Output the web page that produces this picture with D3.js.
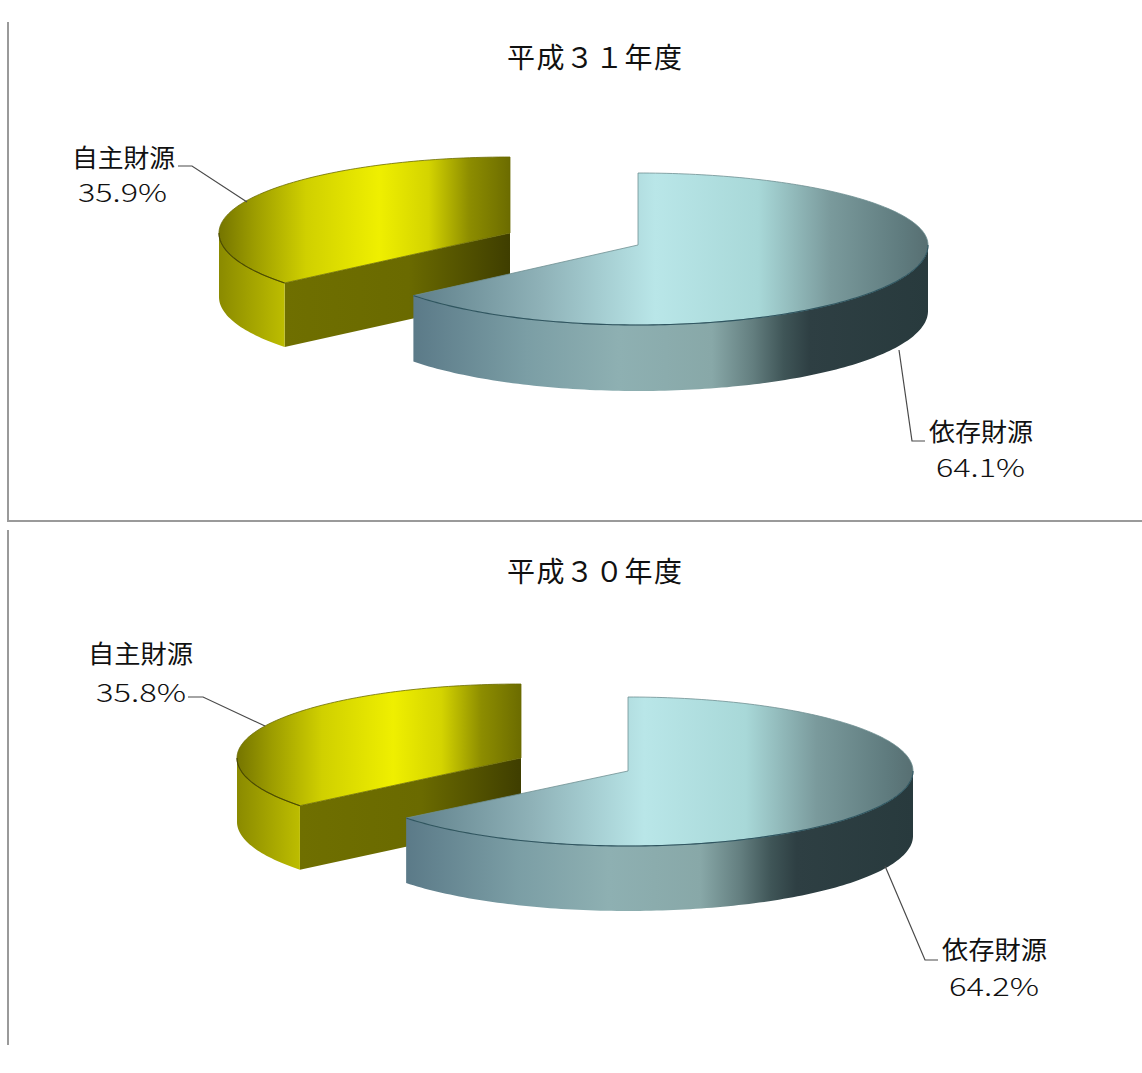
<!DOCTYPE html>
<html><head><meta charset="utf-8">
<script src="https://cdnjs.cloudflare.com/ajax/libs/d3/7.8.5/d3.min.js"></script>
<style>html,body{margin:0;padding:0;background:#fff}svg{display:block}text{font-family:"Noto Sans CJK JP","Noto Sans",sans-serif;fill:#111}</style>
</head><body><svg id="c" width="1142" height="1073"></svg>
<script>
const titles = ["平成３１年度", "平成３０年度"];
const categories = ["依存財源", "自主財源"];
const valuesH31 = [64.1, 35.9];
const valuesH30 = [64.2, 35.8];

const layouts = [
 { values: valuesH31, title: titles[0], titleBox:[507,682,58],
   big:{cx:638,cy:245,rx:290,top:72,bot:80,depth:66},
   small:{cx:510,cy:233,rx:291,top:76,bot:79,depth:64},
   labels:[
     {name:[929,1033,432],pct:[936,1025,468],line:[[899,350],[912,441],[925,441]]},
     {name:[72,175,158],pct:[78,167,193],line:[[178,166],[192,166],[247,202]]}
   ]},
 { values: valuesH30, title: titles[1], titleBox:[507,682,572],
   big:{cx:628,cy:771,rx:285,top:74,bot:75,depth:65},
   small:{cx:521,cy:758,rx:284,top:74,bot:76,depth:64},
   labels:[
     {name:[942,1047,950],pct:[949,1039,987],line:[[885,866],[925,960],[938,960]]},
     {name:[88,193,654],pct:[96,186,693],line:[[188,697],[203,697],[265,726]]}
   ]}
];

const svg = d3.select("#c");
const defs = svg.append("defs");
const pie = d3.pie().sort(null);
const deg90 = Math.PI/2, deg270 = 3*Math.PI/2;

const paint = {
 bigTop:[[0,"#5f7f8a"],[.25,"#8fb2b8"],[.47,"#b9e6e8"],[.67,"#a8d8d8"],[.81,"#7a9a9c"],[.95,"#5f7b7e"],[1,"#576f72"]],
 bigWall:[[0,"#5b7a88"],[.22,"#7b9ea5"],[.4,"#8eb0b2"],[.58,"#88a8a8"],[.66,"#637e7f"],[.72,"#3f5557"],[.77,"#2e3f43"],[1,"#283a3d"]],
 smallTop:[[0,"#757500"],[.12,"#9c9c00"],[.3,"#d0d000"],[.55,"#efef00"],[.72,"#d4d400"],[.86,"#8d8d00"],[1,"#6c6c00"]],
 smallWall:[[0,"#8a8a00"],[1,"#bdbd00"]],
 smallCut:[[0,"#6f6f00"],[.55,"#6a6a00"],[1,"#3f3e00"]]
};
function grad(id,x0,x1,stops){
  const g=defs.append("linearGradient").attr("id",id).attr("gradientUnits","userSpaceOnUse")
    .attr("x1",x0).attr("x2",x1).attr("y1",0).attr("y2",0);
  stops.forEach(s=>g.append("stop").attr("offset",s[0]).attr("stop-color",s[1]));
  return `url(#${id})`;
}
const lineGen = d3.line().x(d=>d[0]).y(d=>d[1]);

function projector(p){
  const xs=d3.scaleLinear().domain([-1,1]).range([p.cx-p.rx,p.cx+p.rx]);
  const ys=d3.scaleLinear().domain([-1,0,1]).range([p.cy+p.bot,p.cy,p.cy-p.top]);
  return (t,dz=0)=>[xs(Math.sin(t)),ys(Math.cos(t))+dz];
}
function arcPts(P,a,b,dz=0){
  const n=Math.max(2,Math.ceil(Math.abs(b-a)/0.02));
  return d3.range(n+1).map(i=>P(a+(b-a)*i/n,dz));
}

layouts.forEach((L,k)=>{
  const slices=pie(L.values);
  const g=svg.append("g");
  [1,0].forEach(i=>{
    const s=slices[i], isBig=i===0, p=isBig?L.big:L.small, P=projector(p);
    const x0=p.cx-p.rx, x1=p.cx+p.rx;
    const a=s.startAngle,b=s.endAngle;
    if(!isBig){
      const e=P(a), e2=P(a,p.depth), c=[p.cx,p.cy], c2=[p.cx,p.cy+p.depth];
      g.append("path").attr("d",lineGen([e,c,c2,e2])+"Z")
       .attr("fill",grad(`cut${k}`,e[0],p.cx,paint.smallCut));
    }
    const w0=Math.max(a,deg90), w1=Math.min(b,deg270);
    const wTop=arcPts(P,w0,w1), wBot=arcPts(P,w1,w0,p.depth);
    const wallFill=isBig?grad(`bw${k}`,P(b)[0],x1,paint.bigWall)
                        :grad(`sw${k}`,x0,P(a)[0],paint.smallWall);
    g.append("path").attr("d",lineGen(wTop.concat(wBot))+"Z").attr("fill",wallFill);
    const top=arcPts(P,a,b).concat([[p.cx,p.cy]]);
    const topFill=isBig?grad(`bt${k}`,P(b)[0],x1,paint.bigTop)
                       :grad(`st${k}`,x0,p.cx,paint.smallTop);
    g.append("path").attr("d",lineGen(top)+"Z").attr("fill",topFill)
      .attr("stroke",isBig?"#6f8f92":"#6b6b00").attr("stroke-width",.8);
    g.append("path").attr("d",lineGen(wTop)).attr("fill","none")
      .attr("stroke",isBig?"#2f5560":"#4a4a00").attr("stroke-width",1.1);
  });
  const tb=L.titleBox;
  svg.append("text").text(L.title).attr("x",tb[0]).attr("y",tb[2]+10)
    .attr("font-size",28).attr("textLength",tb[1]-tb[0]).attr("lengthAdjust","spacing");
  L.labels.forEach((lb,i)=>{
    svg.append("path").attr("d",lineGen(lb.line)).attr("fill","none").attr("stroke","#4a4a4a").attr("stroke-width",1.2);
    svg.append("text").text(categories[i]).attr("x",lb.name[0]).attr("y",lb.name[2]+9)
      .attr("font-size",25).attr("textLength",lb.name[1]-lb.name[0]).attr("lengthAdjust","spacingAndGlyphs");
    svg.append("text").text(L.values[i].toFixed(1)+"%").attr("x",lb.pct[0]).attr("y",lb.pct[2]+9)
      .attr("font-size",25).attr("font-weight",300).attr("textLength",lb.pct[1]-lb.pct[0]).attr("lengthAdjust","spacingAndGlyphs");
  });
});
const frames=[[[8,22],[8,521],[1142,521]],[[8,530],[8,1045]]];
frames.forEach(f=>svg.append("path").attr("d",lineGen(f)).attr("fill","none").attr("stroke","#9a9a9a").attr("stroke-width",2));
</script></body></html>
